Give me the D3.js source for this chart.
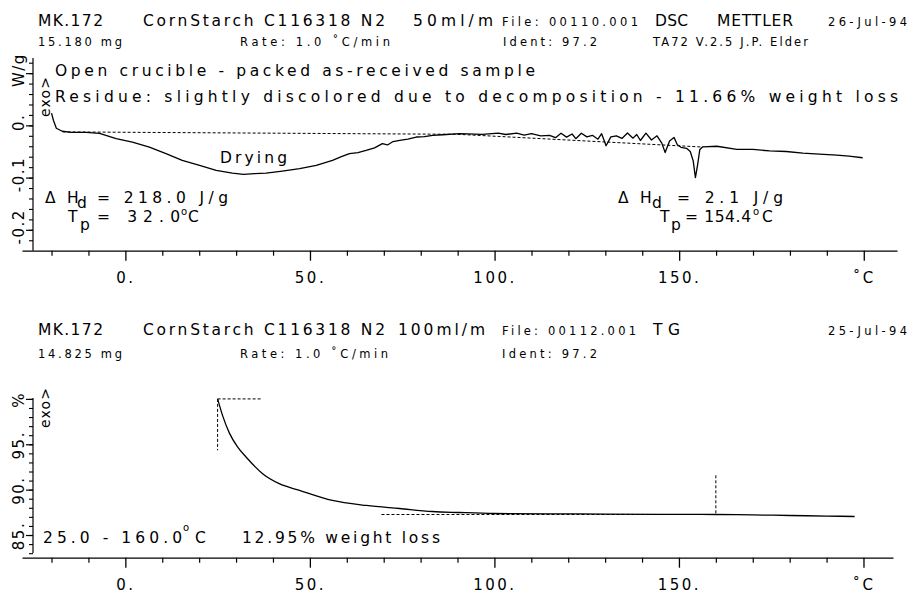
<!DOCTYPE html>
<html>
<head>
<meta charset="utf-8">
<script src="https://cdn.jsdelivr.net/npm/d3@7"></script>
<style>
body { margin: 0; background: #fff; }
svg text { font-family: "DejaVu Sans", sans-serif; fill: #000; }
</style>
</head>
<body>
<svg id="chart" width="910" height="594"></svg>
<script>
// DSC run (top): temperature in C, heat flow in W/g
var dscTemp = [-20.0, -19.5, -18.7, -17.1, -14.6, -10.6, -7.0, -2.5, 1.9, 6.5, 11.0, 15.4, 20.1, 24.6, 29.0,
    32.0, 35.0, 38.1, 42.5, 47.2, 51.7, 56.1, 58.5, 60.7, 63.0, 65.2, 67.5, 69.6, 71.0, 72.5, 74.3, 76.5,
    78.8, 81.0, 83.2, 86.0, 90.5, 96.7, 101.0, 103.0, 106.0, 108.0, 110.0, 112.5, 114.9, 116.5, 118.0,
    119.5, 121.0, 122.0, 123.5, 125.0, 126.5, 128.0, 129.0, 130.2, 131.5, 133.0, 134.5, 136.0, 137.5,
    138.5, 139.5, 141.0, 142.5, 144.0, 145.3, 146.2, 147.4, 148.6, 149.5, 150.5, 152.0, 153.0, 153.8,
    154.4, 155.0, 155.6, 156.4, 160.2, 165.6, 170.0, 174.5, 179.0, 183.5, 188.0, 192.7, 196.0, 199.7];
var dscFlow = [0.0233, 0.0098, -0.0056, -0.0113, -0.0133, -0.0135, -0.0152, -0.0254, -0.0319, -0.0415,
    -0.0542, -0.0671, -0.0767, -0.0863, -0.0915, -0.0940, -0.0925, -0.0915, -0.0876, -0.0830, -0.0767,
    -0.0671, -0.0600, -0.0542, -0.0520, -0.0479, -0.0430, -0.0350, -0.0375, -0.0310, -0.0286, -0.0262,
    -0.0223, -0.0215, -0.0190, -0.0180, -0.0158, -0.0171, -0.0150, -0.0175, -0.0150, -0.0185, -0.0160,
    -0.0200, -0.0190, -0.0235, -0.0150, -0.0225, -0.0165, -0.0255, -0.0150, -0.0220, -0.0190, -0.0265,
    -0.0160, -0.0390, -0.0220, -0.0200, -0.0250, -0.0145, -0.0245, -0.0175, -0.0290, -0.0150, -0.0280,
    -0.0200, -0.0340, -0.0520, -0.0300, -0.0230, -0.0370, -0.0420, -0.0440, -0.0500, -0.0680, -0.1000,
    -0.0750, -0.0460, -0.0410, -0.0400, -0.0460, -0.0460, -0.0490, -0.0500, -0.0530, -0.0550, -0.0570,
    -0.0590, -0.0620];
// integration baseline under the two DSC peaks
var dscBaseTemp = [-17.0, 90.0, 156.4];
var dscBaseFlow = [-0.0125, -0.0171, -0.0415];

// TG run (bottom): temperature in C, mass in %
var tgTemp = [25.0, 26.4, 28.2, 30.4, 32.7, 37.2, 41.7, 47.2, 56.1, 65.3, 74.3, 83.2, 90.5, 100.0,
    115.0, 130.0, 145.0, 160.0, 170.0, 180.0, 190.0, 197.6];
var tgMass = [100.0, 98.1, 96.23, 94.71, 93.60, 91.76, 90.66, 89.92, 88.81, 88.26, 87.92, 87.59,
    87.48, 87.37, 87.33, 87.31, 87.28, 87.26, 87.22, 87.15, 87.09, 87.04];
// step evaluation limits 25.0 - 160.0 C
var tgStepTemp = [25.0, 160.0];
var tgStepMass = [100.0, 87.26];
var tgGuideTemp = [37.1, 69.4];      // ends of the dashed level lines
var tgGuideMass = [94.34, 91.58];    // ends of the dashed drop lines

var xMajor = [0, 50, 100, 150, 200];
var xLabels = ["0.", "50.", "100.", "150.", "\u02DAC"];
var xMinor = [-20, -10, 10, 20, 30, 40, 60, 70, 80, 90, 110, 120, 130, 140, 160, 170, 180, 190];
var dscMajor = [-0.2, -0.1, 0, 0.1];
var dscLabels = ["-0.2", "-0.1", "0.", "W/g"];
var tgMajor = [85, 90, 95, 100];
var tgLabels = ["85.", "90.", "95.", "%"];

var BIG = 15.5, SMALL = 11.5;

var svg = d3.select("#chart");

var xTop = d3.scaleLinear().domain([-28, 209]).range([22, 897]);
var yTop = d3.scaleLinear().domain([-0.24, 0.129]).range([250.7, 58]);
var xBot = d3.scaleLinear().domain([-28, 208]).range([22, 893]);
var yBot = d3.scaleLinear().domain([82.5, 100.1]).range([557.7, 398]);

function note(t, x, y, w, size) {
    var el = svg.append("text")
        .attr("x", x)
        .attr("y", y)
        .attr("font-size", size || BIG)
        .text(t);
    if (w) el.attr("textLength", w).attr("lengthAdjust", "spacing");
    return el;
}

function drawXAxis(x, y0) {
    var minor = d3.axisBottom(x).tickValues(xMinor).tickSize(5).tickSizeOuter(0).tickFormat("");
    svg.append("g").attr("transform", "translate(0," + y0 + ")").call(minor)
        .selectAll("path, line").attr("stroke", "#000").attr("stroke-width", 1.2);

    var major = d3.axisBottom(x).tickValues(xMajor).tickSize(10).tickPadding(12)
        .tickFormat(function (d, i) { return xLabels[i]; });
    var g = svg.append("g").attr("transform", "translate(0," + y0 + ")").call(major);
    g.select(".domain").remove();
    g.selectAll("line").attr("stroke", "#000").attr("stroke-width", 1.3);
    g.attr("font-family", null).attr("font-size", null);
    g.selectAll("text")
        .attr("font-size", 15)
        .attr("fill", "#000")
        .style("letter-spacing", "2.5px");
}

function drawYAxis(y, minorVals, majorVals, labels, top, bottom, off) {
    svg.append("line")
        .attr("x1", 33).attr("x2", 33)
        .attr("y1", top).attr("y2", bottom)
        .attr("stroke", "#000").attr("stroke-width", 1.2);

    var minor = d3.axisLeft(y).tickValues(minorVals).tickSize(4).tickFormat("");
    var g1 = svg.append("g").attr("transform", "translate(33,0)").call(minor);
    g1.select(".domain").remove();
    g1.selectAll("line").attr("stroke", "#000").attr("stroke-width", 1.1);

    var major = d3.axisLeft(y).tickValues(majorVals).tickSize(7).tickFormat("");
    var g2 = svg.append("g").attr("transform", "translate(33,0)").call(major);
    g2.select(".domain").remove();
    g2.selectAll("line").attr("stroke", "#000").attr("stroke-width", 1.2);

    svg.selectAll(null)
        .data(majorVals)
        .enter().append("text")
        .attr("transform", function (d) { return "translate(19," + (y(d) + off) + ") rotate(-90)"; })
        .attr("text-anchor", "middle")
        .attr("dominant-baseline", "central")
        .attr("font-size", 15)
        .style("letter-spacing", "1.5px")
        .text(function (d, i) { return labels[i]; });
}

function exoLabel(yc) {
    svg.append("text")
        .attr("transform", "translate(45," + yc + ") rotate(-90)")
        .attr("text-anchor", "middle")
        .attr("dominant-baseline", "central")
        .attr("font-size", 14)
        .attr("textLength", 40)
        .attr("lengthAdjust", "spacing")
        .text("exo>");
}

// ---------- top panel: DSC ----------
note("MK.172", 38, 26, 65);
note("CornStarch C116318 N2", 143, 26, 242);
note("50ml/m", 413, 26, 80);
note("File: 00110.001", 502, 26, 136, SMALL);
note("DSC", 655, 26, 33);
note("METTLER", 717, 26, 76);
note("26-Jul-94", 828, 26, 79, SMALL);
note("15.180 mg", 38, 46, 84, SMALL);
note("Rate: 1.0 \u02DAC/min", 240, 46, 150, SMALL);
note("Ident: 97.2", 503, 46, 94, SMALL);
note("TA72 V.2.5 J.P. Elder", 653, 46, 155, SMALL);
note("Open crucible - packed as-received sample", 55, 76, 480);
note("Residue: slightly discolored due to decomposition - 11.66% weight loss", 55, 102, 843);
note("Drying", 220, 163, 67);

note("\u0394", 45, 203);
note("H", 67, 203);
note("d", 77, 208);
note("= 218.0 J/g", 97, 203, 131);
note("T", 68, 222);
note("p", 80, 230);
note("= 32.0", 97, 222, 83);
note("o", 181, 215, null, 10);
note("C", 188, 222);

note("\u0394", 618, 203);
note("H", 640, 203);
note("d", 652, 208);
note("= 2.1 J/g", 677, 203, 106);
note("T", 660, 222);
note("p", 671, 230);
note("= 154.4", 685, 222, 66);
note("o", 753, 215, null, 10);
note("C", 762, 222);

drawXAxis(xTop, 250.7);
drawYAxis(yTop, d3.range(-11, 7).map(function (i) { return i * 0.02; }), dscMajor, dscLabels, 58, 250.7, -3);
exoLabel(97);

var dscLine = d3.line()
    .x(function (d) { return xTop(d[0]); })
    .y(function (d) { return yTop(d[1]); });

svg.append("path")
    .datum(d3.zip(dscBaseTemp, dscBaseFlow))
    .attr("d", dscLine)
    .attr("fill", "none")
    .attr("stroke", "#000")
    .attr("stroke-width", 1)
    .attr("stroke-dasharray", "3,2");

svg.append("path")
    .datum(d3.zip(dscTemp, dscFlow))
    .attr("d", dscLine)
    .attr("fill", "none")
    .attr("stroke", "#000")
    .attr("stroke-width", 1.3)
    .attr("stroke-linejoin", "round");

// ---------- bottom panel: TG ----------
note("MK.172", 38, 335, 65);
note("CornStarch C116318 N2", 143, 335, 242);
note("100ml/m", 398, 335, 87);
note("File: 00112.001", 502, 335, 134, SMALL);
note("TG", 653, 335, 27);
note("25-Jul-94", 828, 335, 79, SMALL);
note("14.825 mg", 38, 358, 84, SMALL);
note("Rate: 1.0 \u02DAC/min", 240, 358, 148, SMALL);
note("Ident: 97.2", 502, 358, 95, SMALL);
note("25.0 - 160.0", 43, 543, 139);
note("o", 183, 531, null, 10);
note("C", 195, 543);
note("12.95% weight loss", 242, 543, 198);

drawXAxis(xBot, 557.7);
drawYAxis(yBot, d3.range(83, 101), tgMajor, tgLabels, 398, 553, 1);
exoLabel(408);

var tgLine = d3.line()
    .x(function (d) { return xBot(d[0]); })
    .y(function (d) { return yBot(d[1]); });

var guides = [
    [[tgStepTemp[0], tgStepMass[0]], [tgGuideTemp[0], tgStepMass[0]]],
    [[tgStepTemp[0], tgStepMass[0]], [tgStepTemp[0], tgGuideMass[0]]],
    [[tgGuideTemp[1], tgStepMass[1]], [tgStepTemp[1], tgStepMass[1]]],
    [[tgStepTemp[1], tgGuideMass[1]], [tgStepTemp[1], tgStepMass[1]]]
];
svg.selectAll(".guide")
    .data(guides)
    .enter().append("path")
    .attr("class", "guide")
    .attr("d", tgLine)
    .attr("fill", "none")
    .attr("stroke", "#000")
    .attr("stroke-width", 1)
    .attr("stroke-dasharray", "3,2");

svg.append("path")
    .datum(d3.zip(tgTemp, tgMass))
    .attr("d", tgLine.curve(d3.curveMonotoneX))
    .attr("fill", "none")
    .attr("stroke", "#000")
    .attr("stroke-width", 1.3);
</script>
</body>
</html>
